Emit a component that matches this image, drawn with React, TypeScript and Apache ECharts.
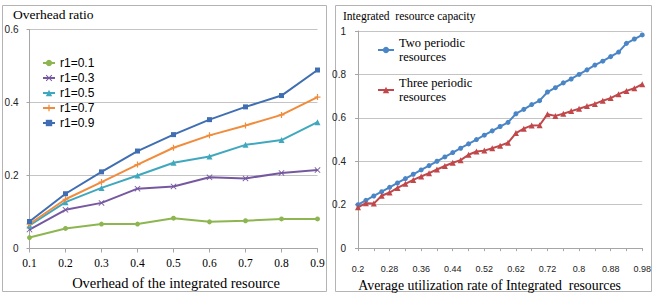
import React, { useEffect, useRef } from 'react';
import * as echarts from 'echarts';

// Left chart data
const leftCategories = ['0.1', '0.2', '0.3', '0.4', '0.5', '0.6', '0.7', '0.8', '0.9'];
const r1_01 = [0.03, 0.055, 0.067, 0.067, 0.083, 0.073, 0.076, 0.081, 0.081];
const r1_03 = [0.052, 0.106, 0.125, 0.164, 0.17, 0.195, 0.192, 0.207, 0.215];
const r1_05 = [0.063, 0.127, 0.166, 0.2, 0.235, 0.252, 0.284, 0.297, 0.346];
const r1_07 = [0.067, 0.135, 0.182, 0.23, 0.276, 0.31, 0.337, 0.366, 0.415];
const r1_09 = [0.074, 0.15, 0.21, 0.267, 0.312, 0.353, 0.388, 0.419, 0.489];

// Right chart data
const rightCategories = [
  '0.2', '0.22', '0.24', '0.26', '0.28', '0.3', '0.32', '0.34', '0.36', '0.38',
  '0.4', '0.42', '0.44', '0.46', '0.48', '0.5', '0.52', '0.54', '0.56', '0.58',
  '0.62', '0.64', '0.66', '0.68', '0.72', '0.74', '0.76', '0.78', '0.8', '0.82',
  '0.84', '0.86', '0.88', '0.9', '0.94', '0.96', '0.98',
];
const twoPeriodic = [
  0.2, 0.22, 0.24, 0.26, 0.28, 0.3, 0.32, 0.34, 0.36, 0.38,
  0.4, 0.42, 0.44, 0.46, 0.48, 0.5, 0.52, 0.54, 0.56, 0.579,
  0.619, 0.639, 0.661, 0.679, 0.719, 0.739, 0.761, 0.779, 0.8, 0.821,
  0.843, 0.861, 0.882, 0.903, 0.943, 0.963, 0.982,
];
const threePeriodic = [
  0.188, 0.207, 0.205, 0.241, 0.256, 0.277, 0.296, 0.314, 0.33, 0.345,
  0.362, 0.378, 0.393, 0.405, 0.43, 0.445, 0.449, 0.46, 0.472, 0.485,
  0.53, 0.55, 0.565, 0.566, 0.617, 0.609, 0.619, 0.631, 0.642, 0.654,
  0.664, 0.679, 0.691, 0.709, 0.724, 0.736, 0.755,
];

const SERIF = 'Liberation Serif';
const SANS = 'Liberation Sans';
const X_SYMBOL = 'path://M0,1L1,0L5,4L9,0L10,1L6,5L10,9L9,10L5,6L1,10L0,9L4,5Z';
const PLUS_SYMBOL = 'path://M4,0H6V4H10V6H6V10H4V6H0V4H4Z';

const gridLine = { show: true, lineStyle: { color: '#C4C4C4', width: 1 } };
const axisLine = { show: true, lineStyle: { color: '#A6A6A6', width: 1 } };

function lineSeries(name: string, data: number[], color: string, symbol: string, size: number, axis: number) {
  return {
    name,
    type: 'line',
    data,
    xAxisIndex: axis,
    yAxisIndex: axis,
    symbol,
    symbolSize: size,
    showAllSymbol: true,
    color,
    lineStyle: { width: 2, color },
    itemStyle: { color },
    emphasis: { disabled: true },
  };
}

export default function App() {
  const ref = useRef<HTMLDivElement>(null);
  useEffect(() => {
    const chart = echarts.init(ref.current!, null, { renderer: 'svg' });
    const option = {
      animation: false,
      backgroundColor: '#fff',
      title: [
        {
          text: 'Overhead ratio',
          left: 13,
          top: 7,
          padding: 0,
          textStyle: { fontFamily: SERIF, fontSize: 13.5, fontWeight: 'normal', color: '#000' },
        },
        {
          text: 'Integrated  resource capacity',
          left: 343,
          top: 10,
          padding: 0,
          textStyle: { fontFamily: SERIF, fontSize: 11.5, fontWeight: 'normal', color: '#000' },
        },
      ],
      legend: [
        {
          orient: 'vertical',
          left: 42,
          top: 57,
          padding: 0,
          itemWidth: 12,
          itemHeight: 8,
          itemGap: 3,
          textStyle: { fontFamily: SANS, fontSize: 12, color: '#000' },
          data: ['r1=0.1', 'r1=0.3', 'r1=0.5', 'r1=0.7', 'r1=0.9'],
        },
        {
          orient: 'vertical',
          left: 377,
          top: 29,
          padding: 0,
          itemWidth: 16,
          itemHeight: 8,
          formatter: (n: string) => n.replace(' resources', '\nresources'),
          textStyle: { fontFamily: SERIF, fontSize: 12.5, lineHeight: 14, color: '#000', padding: [14, 0, 0, 0] },
          data: ['Two periodic resources'],
        },
        {
          orient: 'vertical',
          left: 377,
          top: 69,
          padding: 0,
          itemWidth: 16,
          itemHeight: 8,
          formatter: (n: string) => n.replace(' resources', '\nresources'),
          textStyle: { fontFamily: SERIF, fontSize: 12.5, lineHeight: 14, color: '#000', padding: [14, 0, 0, 0] },
          data: ['Three periodic resources'],
        },
      ],
      grid: [
        { left: 29.5, right: 336.5, top: 29.5, bottom: 48.5, containLabel: false },
        { left: 358, right: 8, top: 31, bottom: 43, containLabel: false },
      ],
      xAxis: [
        {
          type: 'category',
          gridIndex: 0,
          data: leftCategories,
          boundaryGap: false,
          axisLine,
          axisTick: { show: true, length: 4, lineStyle: { color: '#A6A6A6' } },
          axisLabel: { fontFamily: SERIF, fontSize: 11.5, color: '#000', margin: 8 },
          name: 'Overhead of the integrated resource',
          nameLocation: 'middle',
          nameGap: 27,
          nameTextStyle: { fontFamily: SERIF, fontSize: 14.5, color: '#000', padding: [0, 0, 0, 5] },
        },
        {
          type: 'category',
          gridIndex: 1,
          data: rightCategories,
          boundaryGap: false,
          axisLine,
          axisTick: { show: true, length: 3, interval: 1, lineStyle: { color: '#A6A6A6' } },
          axisLabel: { fontFamily: SANS, fontSize: 9, color: '#222', margin: 16, interval: 3 },
          name: 'Average utilization rate of Integrated  resources',
          nameLocation: 'middle',
          nameGap: 19,
          nameTextStyle: { fontFamily: SERIF, fontSize: 13.8, color: '#000', padding: [0, 21, 0, 0] },
        },
      ],
      yAxis: [
        {
          type: 'value',
          gridIndex: 0,
          min: 0,
          max: 0.6,
          interval: 0.2,
          axisLine,
          axisTick: { show: true, length: 3, lineStyle: { color: '#A6A6A6' } },
          splitLine: gridLine,
          axisLabel: { fontFamily: SANS, fontSize: 10, color: '#222', margin: 11 },
        },
        {
          type: 'value',
          gridIndex: 1,
          min: 0,
          max: 1,
          interval: 0.2,
          axisLine,
          axisTick: { show: true, length: 3, lineStyle: { color: '#A6A6A6' } },
          splitLine: gridLine,
          axisLabel: { fontFamily: SANS, fontSize: 10, color: '#222', margin: 12 },
        },
      ],
      series: [
        lineSeries('r1=0.1', r1_01, '#8DB650', 'circle', 5, 0),
        lineSeries('r1=0.3', r1_03, '#7658A0', X_SYMBOL, 6, 0),
        lineSeries('r1=0.5', r1_05, '#40A8BE', 'triangle', 6, 0),
        lineSeries('r1=0.7', r1_07, '#F08C3C', PLUS_SYMBOL, 6, 0),
        lineSeries('r1=0.9', r1_09, '#3F6EB2', 'rect', 5, 0),
        lineSeries('Two periodic resources', twoPeriodic, '#4A85C6', 'circle', 5, 1),
        lineSeries('Three periodic resources', threePeriodic, '#C0474A', 'triangle', 6, 1),
      ],
      graphic: [
        {
          type: 'rect',
          shape: { x: 2.5, y: 5.5, width: 324, height: 286 },
          style: { fill: 'none', stroke: '#B4B4B4', lineWidth: 1 },
          silent: true,
        },
        {
          type: 'rect',
          shape: { x: 335.5, y: 5.5, width: 316, height: 286 },
          style: { fill: 'none', stroke: '#B4B4B4', lineWidth: 1 },
          silent: true,
        },
      ],
    };
    chart.setOption(option as any);
    return () => chart.dispose();
  }, []);
  return (
    <div
      ref={ref}
      style={{ position: 'fixed', left: 0, top: 0, width: 654, height: 297, background: '#fff' }}
    />
  );
}
